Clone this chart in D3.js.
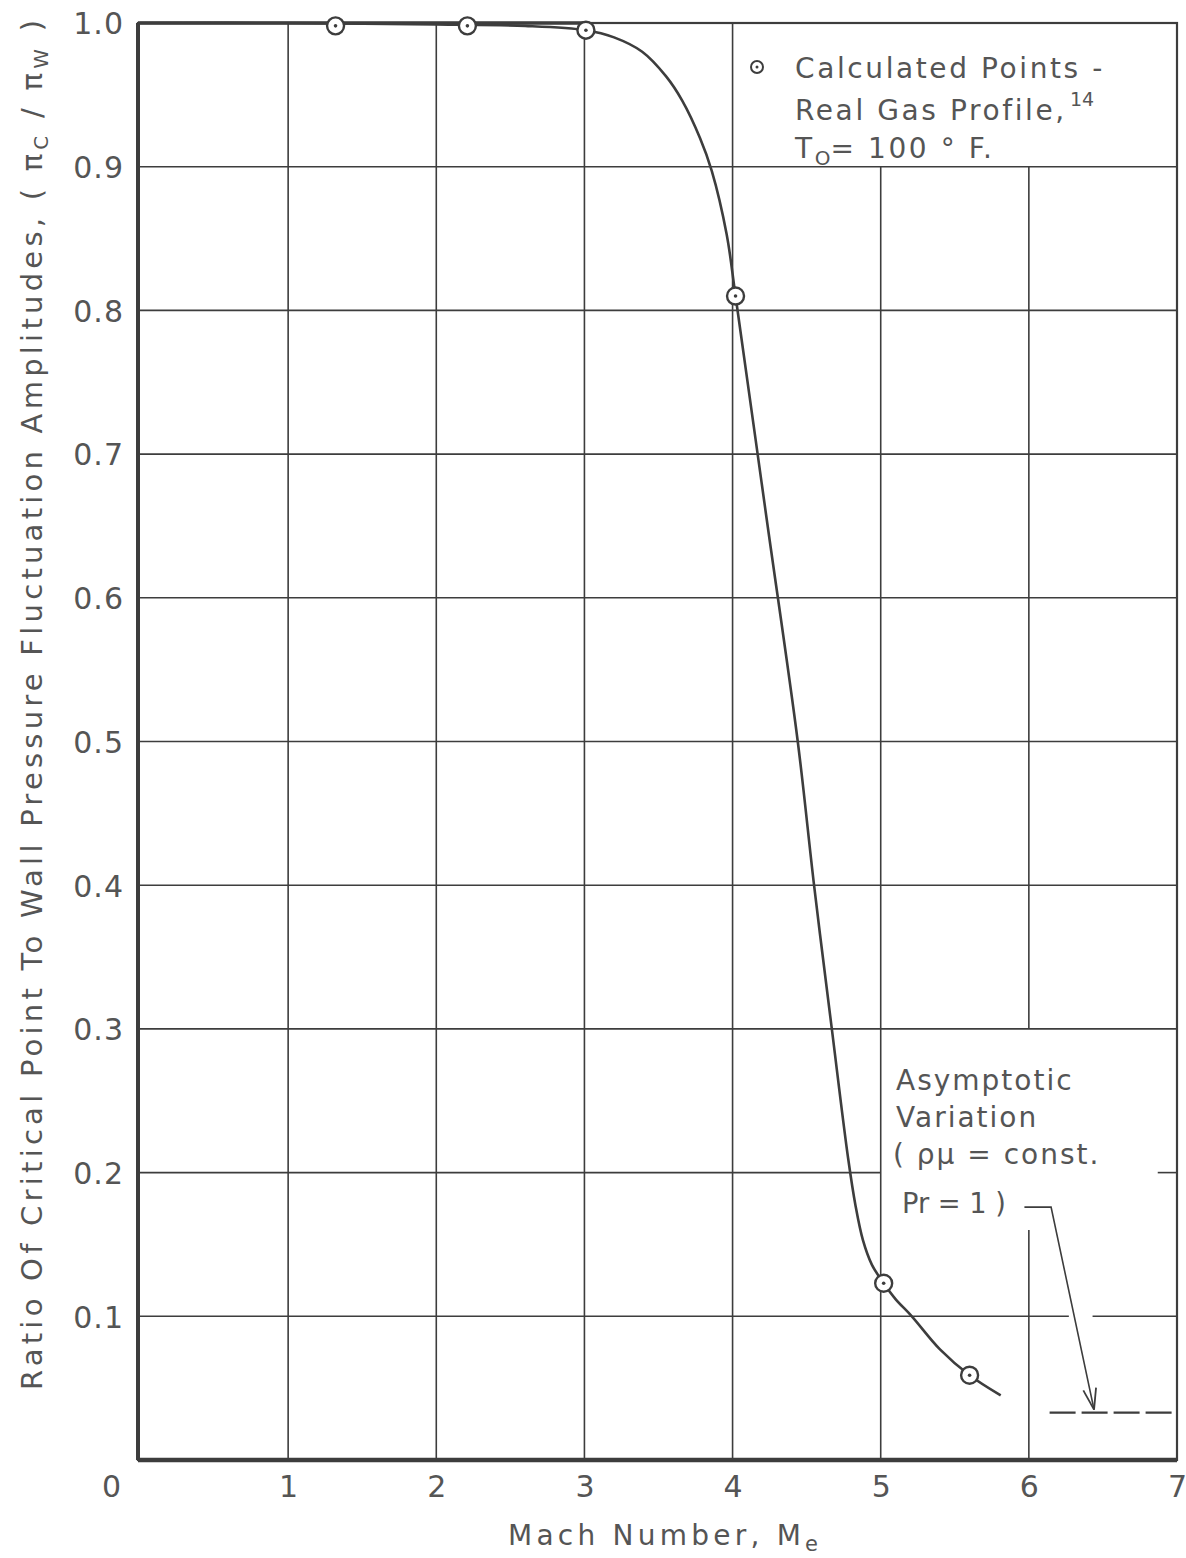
<!DOCTYPE html>
<html>
<head>
<meta charset="utf-8">
<script src="https://cdn.jsdelivr.net/npm/d3@7"></script>
<style>
  body { margin: 0; background: #fff; }
  text { font-family: "DejaVu Sans", sans-serif; fill: #555; }
</style>
</head>
<body>
<div id="chart"></div>
<script>
// ---- data ----
const xTicks = [0, 1, 2, 3, 4, 5, 6, 7];
const yTicks = [0.1, 0.2, 0.3, 0.4, 0.5, 0.6, 0.7, 0.8, 0.9, 1.0];

// calculated points (real gas profile)
const calcMach = [1.32, 2.21, 3.01, 4.02, 5.02, 5.60];
const calcRatio = [0.998, 0.998, 0.995, 0.810, 0.123, 0.059];

// faired curve through the points
const curveMach = [0, 1.0, 2.0, 2.6, 3.01, 3.2, 3.39, 3.55, 3.66, 3.78, 3.86, 3.96, 4.02, 4.23, 4.44, 4.55, 4.67, 4.78, 4.83, 4.88, 4.94, 5.02, 5.10, 5.21, 5.40, 5.60, 5.81];
const curveRatio = [1.0, 1.0, 0.999, 0.998, 0.995, 0.99, 0.98, 0.963, 0.946, 0.92, 0.897, 0.853, 0.810, 0.655, 0.50, 0.40, 0.30, 0.21, 0.177, 0.153, 0.136, 0.123, 0.112, 0.10, 0.077, 0.059, 0.045];

// asymptotic variation (rho mu = const, Pr = 1)
const asymMach = [6.14, 7.0];
const asymRatio = 0.033;

// vertical grid segments [x, y0, y1] and horizontal [y, x0, x1]
const vGrid = [[1, 0, 1], [2, 0, 1], [3, 0, 1], [4, 0, 1], [5, 0, 0.9], [6, 0, 0.16], [6, 0.3, 0.9]];
const hGrid = [[0.9, 0, 7], [0.8, 0, 7], [0.7, 0, 7], [0.6, 0, 7], [0.5, 0, 7], [0.4, 0, 7], [0.3, 0, 7],
               [0.2, 0, 5], [0.2, 6.87, 7], [0.1, 0, 6.27], [0.1, 6.43, 7]];

// ---- drawing ----
const W = 1186, H = 1558;
const ink = "#3d3d3d";

const svg = d3.select("#chart").append("svg")
    .attr("width", W)
    .attr("height", H);

svg.append("rect").attr("width", W).attr("height", H).attr("fill", "#fff");

const x = d3.scaleLinear().domain([0, 7]).range([140, 1177]);
const y = d3.scaleLinear().domain([0, 1]).range([1460, 23]);

// grid
svg.append("g").selectAll("line.v")
    .data(vGrid).enter().append("line")
    .attr("x1", d => x(d[0])).attr("x2", d => x(d[0]))
    .attr("y1", d => y(d[1])).attr("y2", d => y(d[2]))
    .attr("stroke", ink).attr("stroke-width", 1.6);

svg.append("g").selectAll("line.h")
    .data(hGrid).enter().append("line")
    .attr("y1", d => y(d[0])).attr("y2", d => y(d[0]))
    .attr("x1", d => x(d[1])).attr("x2", d => x(d[2]))
    .attr("stroke", ink).attr("stroke-width", 1.6);

// frame
svg.append("rect")
    .attr("x", x(0) - 2).attr("y", y(1))
    .attr("width", x(7) - x(0) + 2).attr("height", y(0) - y(1))
    .attr("fill", "none").attr("stroke", ink).attr("stroke-width", 2.2);
svg.append("line")
    .attr("x1", x(0) - 2).attr("x2", x(7)).attr("y1", y(0)).attr("y2", y(0))
    .attr("stroke", ink).attr("stroke-width", 4.5);
svg.append("line")
    .attr("x1", x(0) - 2).attr("x2", x(0) - 2).attr("y1", y(1)).attr("y2", y(0))
    .attr("stroke", ink).attr("stroke-width", 4);
svg.append("line")
    .attr("x1", x(0) - 2).attr("x2", x(3)).attr("y1", y(1)).attr("y2", y(1))
    .attr("stroke", ink).attr("stroke-width", 3.5);

// axes (labels only)
const yAxis = svg.append("g")
    .attr("transform", `translate(${x(0) - 2},0)`)
    .call(d3.axisLeft(y).tickValues(yTicks).tickFormat(d3.format(".1f")).tickSize(0).tickPadding(14));
yAxis.select(".domain").remove();
yAxis.selectAll("text").style("font-size", "30px").style("letter-spacing", "1px").attr("dy", "0.36em");

const xAxis = svg.append("g")
    .attr("transform", `translate(0,${y(0)})`)
    .call(d3.axisBottom(x).tickValues(xTicks).tickFormat(d3.format("d")).tickSize(0).tickPadding(37));
xAxis.select(".domain").remove();
xAxis.selectAll("text").style("font-size", "30px").attr("dy", "0");
xAxis.selectAll(".tick").filter(d => d === 0).select("text").attr("x", -29);

// curve
const curvePts = curveMach.map((m, i) => [m, curveRatio[i]]);
svg.append("path")
    .datum(curvePts)
    .attr("d", d3.line().x(d => x(d[0])).y(d => y(d[1])).curve(d3.curveCatmullRom.alpha(0.5)))
    .attr("fill", "none").attr("stroke", ink).attr("stroke-width", 2.6);

// calculated points
const calcPts = calcMach.map((m, i) => [m, calcRatio[i]]);
const pts = svg.append("g").selectAll("g").data(calcPts).enter().append("g")
    .attr("transform", d => `translate(${x(d[0])},${y(d[1])})`);
pts.append("circle").attr("r", 8.5).attr("fill", "#fff").attr("stroke", ink).attr("stroke-width", 2.4);
pts.append("circle").attr("r", 1.8).attr("fill", ink);

// asymptote
svg.append("line")
    .attr("x1", x(asymMach[0])).attr("x2", x(asymMach[1]))
    .attr("y1", y(asymRatio)).attr("y2", y(asymRatio))
    .attr("stroke", ink).attr("stroke-width", 2.2).attr("stroke-dasharray", "26 6");

// leader with arrow
const leader = [[5.97, 0.176], [6.15, 0.176], [6.44, y.invert(y(asymRatio) - 3)]];
svg.append("path")
    .datum(leader)
    .attr("d", d3.line().x(d => x(d[0])).y(d => y(d[1])))
    .attr("fill", "none").attr("stroke", ink).attr("stroke-width", 1.6);
const tip = [x(leader[2][0]), y(leader[2][1])];
const ang = Math.atan2(tip[1] - y(leader[1][1]), tip[0] - x(leader[1][0]));
[0.3, -0.3].forEach(a => {
  svg.append("line")
      .attr("x1", tip[0]).attr("y1", tip[1])
      .attr("x2", tip[0] - 22 * Math.cos(ang + a)).attr("y2", tip[1] - 22 * Math.sin(ang + a))
      .attr("stroke", ink).attr("stroke-width", 1.8);
});

// legend box text
const lg = svg.append("g").style("font-size", "28px").style("letter-spacing", "2.6px");
lg.append("circle").attr("cx", 757).attr("cy", 67).attr("r", 6).attr("fill", "none").attr("stroke", ink).attr("stroke-width", 2);
lg.append("circle").attr("cx", 757).attr("cy", 67).attr("r", 1.5).attr("fill", ink);
lg.append("text").attr("x", 795).attr("y", 78).text("Calculated Points -");
lg.append("text").attr("x", 795).attr("y", 120).text("Real Gas Profile,");
lg.append("text").attr("x", 1070).attr("y", 106)
    .style("font-size", "19px").style("letter-spacing", "0px").text("14");
const l3 = lg.append("text").attr("x", 795).attr("y", 158);
l3.append("tspan").text("T");
l3.append("tspan").attr("dy", 7).style("font-size", "20px").style("letter-spacing", "0px").text("O");
l3.append("tspan").attr("dy", -7).text("= 100 ° F.");

// asymptotic annotation
const an = svg.append("g").style("font-size", "28px").style("letter-spacing", "2px");
an.append("text").attr("x", 896).attr("y", 1090).text("Asymptotic");
an.append("text").attr("x", 896).attr("y", 1127).text("Variation");
an.append("text").attr("x", 893).attr("y", 1164).text("( ρμ = const.");
an.append("text").attr("x", 902).attr("y", 1213)
    .attr("textLength", 104).attr("lengthAdjust", "spacingAndGlyphs")
    .style("letter-spacing", "0px").text("Pr = 1 )");

// axis titles
const xt = svg.append("text")
    .attr("x", 508).attr("y", 1545)
    .attr("textLength", 310).attr("lengthAdjust", "spacing")
    .style("font-size", "28px");
xt.append("tspan").text("Mach  Number, M");
xt.append("tspan").attr("dy", 6).style("font-size", "21px").text("e");

const yt = svg.append("text")
    .attr("transform", "translate(42,1390) rotate(-90)")
    .attr("textLength", 1370).attr("lengthAdjust", "spacing")
    .style("font-size", "29px");
yt.append("tspan").text("Ratio Of Critical Point To Wall Pressure Fluctuation Amplitudes, ( π");
yt.append("tspan").attr("dy", 6).style("font-size", "20px").text("C");
yt.append("tspan").attr("dy", -6).text(" / π");
yt.append("tspan").attr("dy", 6).style("font-size", "20px").text("W");
yt.append("tspan").attr("dy", -6).text(" )");
</script>
</body>
</html>
